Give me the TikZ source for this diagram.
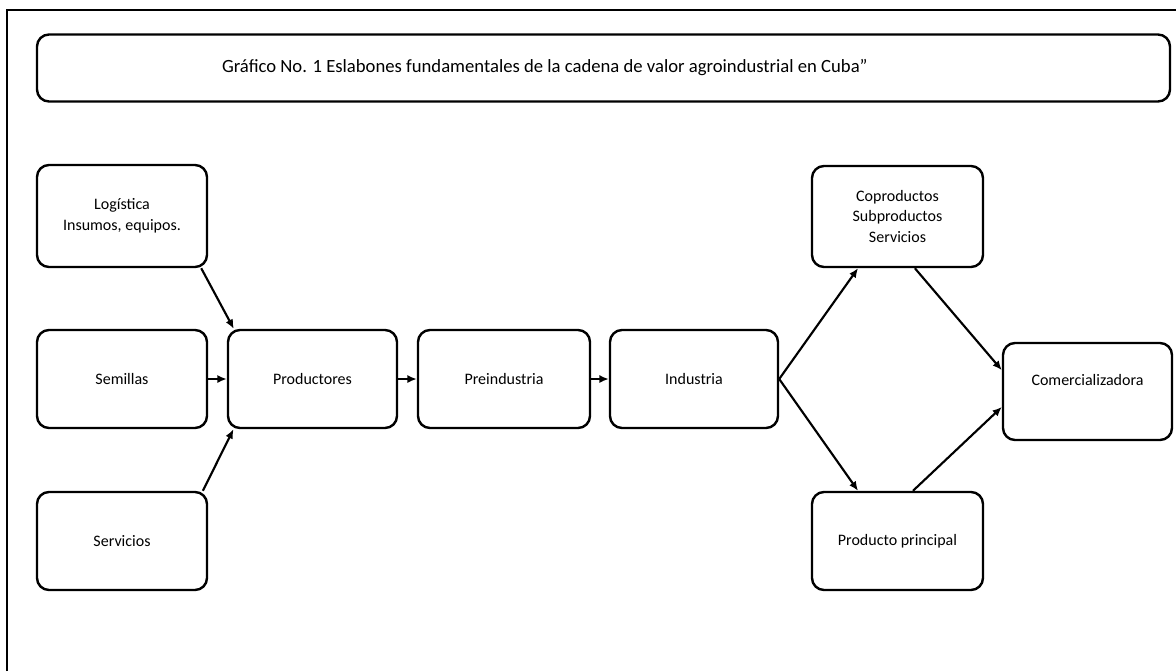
\documentclass[tikz,border=0pt]{standalone}
\usepackage{fontspec}
\setmainfont{Carlito}
\usetikzlibrary{arrows.meta}

\tikzset{caja/.style={draw,line width=1.8pt,rounded corners=9pt,align=center,inner sep=0pt,
		font=\fontsize{12}{15.5}\selectfont,minimum width=127.5pt,minimum height=73.5pt}}
\tikzset{flecha/.style={-{Latex[length=7pt,width=6pt]},line width=1.6pt}}

\begin{document}
\begin{tikzpicture}[x=0.75pt,y=-0.75pt]
		\useasboundingbox (0,0) rectangle (1176,671);
		\draw[line width=1.2pt] (7,671) -- (7,10) -- (1176,10);
		\node[caja,minimum width=849.75pt,minimum height=50.25pt,font=\fontsize{14}{16}\selectfont] (titulo) at (603.5,68) {Gráfico No. 1 Eslabones fundamentales de la cadena de valor agroindustrial en Cuba”\hspace*{88pt}};
		\node[caja,minimum height=76.5pt] (logi) at (122,216) {Logística\\Insumos, equipos.};
		\node[caja] (semi) at (122,379) {Semillas};
		\node[caja] (serv) at (122,541) {Servicios};
		\node[caja,minimum width=126.75pt] (prod) at (312.5,379) {Productores};
		\node[caja,minimum width=129pt] (prei) at (504,379) {Preindustria};
		\node[caja,minimum width=126pt] (indu) at (694,379) {Industria};
		\node[caja,minimum width=128.25pt,minimum height=75.75pt] (copr) at (897.5,216.5) {Coproductos\\Subproductos\\Servicios};
		\node[caja,minimum width=128.25pt] (ppal) at (897.5,541) {Producto principal};
		\node[caja,minimum width=126.75pt,minimum height=72.75pt,text height=8pt,text depth=17.4pt] (come) at (1087.5,391.5) {Comercializadora};
		\draw[flecha] ([xshift=-5.25pt]logi.south east) -- ([xshift=5.25pt]prod.north west);
		\draw[flecha] (semi) -- (prod);
		\draw[flecha] ([xshift=-4pt]serv.north east) -- ([xshift=5pt]prod.south west);
		\draw[flecha] (prod) -- (prei);
		\draw[flecha] (prei) -- (indu);
		\draw[flecha] (indu.east) -- ([xshift=-29.6pt]copr.south);
		\draw[flecha] (indu.east) -- ([xshift=-29.6pt]ppal.north);
		\draw[flecha] ([xshift=13pt]copr.south) -- ([yshift=16pt]come.west);
		\draw[flecha] ([xshift=11.6pt]ppal.north) -- ([yshift=-11.6pt]come.west);
\end{tikzpicture}
\end{document}
